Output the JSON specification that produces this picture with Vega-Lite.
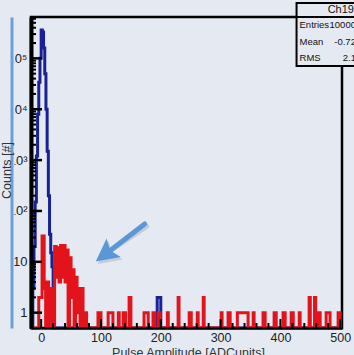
{
  "$schema": "https://vega.github.io/schema/vega-lite/v6.json",
  "width": 311,
  "height": 311,
  "autosize": {"type": "none"},
  "padding": {"left": 31, "top": 17, "right": 12, "bottom": 27},
  "background": "#e5eaf2",
  "datasets": {
    "blue": [
      {"x": -17, "n": 0}, {"x": -14, "n": 3}, {"x": -12, "n": 20}, {"x": -10, "n": 150},
      {"x": -8, "n": 1200}, {"x": -6, "n": 8000}, {"x": -4, "n": 34000}, {"x": -2, "n": 100000},
      {"x": 0, "n": 360000}, {"x": 2, "n": 330000}, {"x": 4, "n": 160000}, {"x": 6, "n": 50000},
      {"x": 8, "n": 10000}, {"x": 10, "n": 1500}, {"x": 12, "n": 200}, {"x": 14, "n": 35},
      {"x": 16, "n": 15}, {"x": 18, "n": 8}, {"x": 20, "n": 3}, {"x": 22, "n": 0},
      {"x": 194, "n": 2}, {"x": 200, "n": 0}, {"x": 503, "n": 0}
    ],
    "red": [
      {"x": -17, "n": 0}, {"x": -4, "n": 2}, {"x": 1.5, "n": 32}, {"x": 5, "n": 3},
      {"x": 7.5, "n": 0}, {"x": 10, "n": 4}, {"x": 12.5, "n": 1}, {"x": 15, "n": 0},
      {"x": 17.5, "n": 3}, {"x": 20, "n": 0}, {"x": 22.5, "n": 20}, {"x": 25, "n": 5},
      {"x": 27.5, "n": 19}, {"x": 30, "n": 4}, {"x": 32.5, "n": 21}, {"x": 35, "n": 5},
      {"x": 37.5, "n": 21}, {"x": 40, "n": 4}, {"x": 42.5, "n": 17}, {"x": 45, "n": 0},
      {"x": 47.5, "n": 12}, {"x": 50, "n": 2}, {"x": 52.5, "n": 7}, {"x": 55, "n": 0},
      {"x": 57.5, "n": 5}, {"x": 60, "n": 1}, {"x": 62.5, "n": 3}, {"x": 65, "n": 0},
      {"x": 67.5, "n": 3}, {"x": 70, "n": 1}, {"x": 72.5, "n": 0}, {"x": 74, "n": 1},
      {"x": 76, "n": 0},
      {"x": 95, "n": 1}, {"x": 100, "n": 0},
      {"x": 112, "n": 1}, {"x": 120, "n": 0},
      {"x": 129, "n": 1}, {"x": 130.5, "n": 0},
      {"x": 137, "n": 1}, {"x": 141, "n": 0},
      {"x": 147, "n": 2}, {"x": 150, "n": 0},
      {"x": 172, "n": 1}, {"x": 179, "n": 0},
      {"x": 187, "n": 1}, {"x": 190, "n": 0},
      {"x": 196, "n": 1}, {"x": 199, "n": 0},
      {"x": 211, "n": 1}, {"x": 212.5, "n": 0},
      {"x": 229, "n": 2}, {"x": 230.5, "n": 0},
      {"x": 247.5, "n": 1}, {"x": 251, "n": 0},
      {"x": 261, "n": 1}, {"x": 262.5, "n": 0},
      {"x": 271, "n": 2}, {"x": 272.5, "n": 0},
      {"x": 301, "n": 1}, {"x": 302.5, "n": 0},
      {"x": 312.5, "n": 1}, {"x": 316, "n": 0},
      {"x": 328, "n": 1}, {"x": 346, "n": 0},
      {"x": 354.5, "n": 1}, {"x": 356, "n": 0},
      {"x": 371, "n": 1}, {"x": 374.5, "n": 0},
      {"x": 389.5, "n": 1}, {"x": 393, "n": 0},
      {"x": 404.5, "n": 1}, {"x": 408, "n": 0},
      {"x": 418, "n": 1}, {"x": 421.5, "n": 0},
      {"x": 431.5, "n": 1}, {"x": 433, "n": 0},
      {"x": 448, "n": 2}, {"x": 450, "n": 0},
      {"x": 457, "n": 2}, {"x": 459, "n": 0},
      {"x": 463, "n": 1}, {"x": 466.5, "n": 0},
      {"x": 476.5, "n": 1}, {"x": 483, "n": 0},
      {"x": 496.5, "n": 1}, {"x": 500, "n": 0},
      {"x": 503, "n": 0}
    ],
    "arrow": [{"x": 173.1, "n": 55.4, "xe": 107.9, "ne": 14.3}],
    "statbox": [{"x": 427, "x2": 560, "n": 1220000, "n2": 70700}],
    "statline": [{"x": 427, "x2": 560, "n": 650000}],
    "stattitle": [{"x": 479, "n": 890000, "t": "Ch19"}],
    "statlabels": [
      {"x": 432, "n": 450000, "t": "Entries"},
      {"x": 432, "n": 210000, "t": "Mean"},
      {"x": 432, "n": 102000, "t": "RMS"}
    ],
    "statvalues": [
      {"x": 544, "n": 450000, "t": "1000000"},
      {"x": 544, "n": 210000, "t": "-0.7203"},
      {"x": 544, "n": 102000, "t": "2.158"}
    ],
    "ymajor": [{"v": 1}, {"v": 10}, {"v": 100}, {"v": 1000}, {"v": 10000}, {"v": 100000}],
    "yminor": [
      {"v": 2}, {"v": 3}, {"v": 4}, {"v": 5}, {"v": 6}, {"v": 7}, {"v": 8}, {"v": 9},
      {"v": 20}, {"v": 30}, {"v": 40}, {"v": 50}, {"v": 60}, {"v": 70}, {"v": 80}, {"v": 90},
      {"v": 200}, {"v": 300}, {"v": 400}, {"v": 500}, {"v": 600}, {"v": 700}, {"v": 800}, {"v": 900},
      {"v": 2000}, {"v": 3000}, {"v": 4000}, {"v": 5000}, {"v": 6000}, {"v": 7000}, {"v": 8000}, {"v": 9000},
      {"v": 20000}, {"v": 30000}, {"v": 40000}, {"v": 50000}, {"v": 60000}, {"v": 70000}, {"v": 80000}, {"v": 90000},
      {"v": 200000}, {"v": 300000}, {"v": 400000}, {"v": 500000}, {"v": 600000}
    ],
    "xmajor": [{"v": 0}, {"v": 100}, {"v": 200}, {"v": 300}, {"v": 400}, {"v": 500}],
    "xminor": [
      {"v": 20}, {"v": 40}, {"v": 60}, {"v": 80}, {"v": 120}, {"v": 140}, {"v": 160}, {"v": 180},
      {"v": 220}, {"v": 240}, {"v": 260}, {"v": 280}, {"v": 320}, {"v": 340}, {"v": 360}, {"v": 380},
      {"v": 420}, {"v": 440}, {"v": 460}, {"v": 480}
    ]
  },
  "layer": [
    {
      "data": {"name": "blue"},
      "mark": {"type": "line", "interpolate": "step-after", "color": "#1a2196", "strokeWidth": 3, "strokeJoin": "miter", "invalid": null},
      "encoding": {
        "x": {"field": "x", "type": "quantitative",
          "scale": {"type": "linear", "domain": [-17, 503], "nice": false, "zero": false},
          "axis": {"orient": "bottom", "values": [0, 100, 200, 300, 400, 500], "ticks": false, "domain": true, "domainColor": "#000000", "domainWidth": 2,
            "labelFontSize": 12.5, "labelColor": "#222222", "labelPadding": 3,
            "title": "Pulse Amplitude [ADCunits]", "titleFontSize": 12.5, "titleFontWeight": "normal", "titleColor": "#333333",
            "titleX": 157, "titleY": 28, "titleBaseline": "alphabetic", "titleAlign": "center", "zindex": 1}},
        "y": {"field": "n", "type": "quantitative",
          "scale": {"type": "log", "domain": [0.5, 650000], "nice": false, "clamp": true},
          "axis": {"orient": "left", "values": [1, 10, 100, 1000, 10000, 100000],
            "labelExpr": "datum.value == 1 ? '1\u2007' : datum.value == 10 ? '10' : datum.value == 100 ? '10²' : datum.value == 1000 ? '10³' : datum.value == 10000 ? '10⁴' : '10⁵'",
            "ticks": false, "domain": true, "domainColor": "#000000", "domainWidth": 4,
            "labelFontSize": 13, "labelColor": "#222222", "labelPadding": 4, "title": null, "zindex": 1}}
      }
    },
    {
      "data": {"name": "red"},
      "mark": {"type": "line", "interpolate": "step-after", "color": "#e3131b", "strokeWidth": 3, "strokeJoin": "miter", "invalid": null},
      "encoding": {
        "x": {"field": "x", "type": "quantitative", "scale": {"type": "linear", "domain": [-17, 503], "nice": false, "zero": false}, "axis": null},
        "y": {"field": "n", "type": "quantitative", "scale": {"type": "log", "domain": [0.5, 650000], "nice": false, "clamp": true}, "axis": null}
      }
    },
    {
      "data": {"name": "arrow"},
      "mark": {"type": "rule", "color": "#8a96a8", "opacity": 0.35, "strokeWidth": 5, "strokeCap": "round", "xOffset": 2, "yOffset": 2.5},
      "encoding": {
        "x": {"field": "x", "type": "quantitative", "scale": {"type": "linear", "domain": [-17, 503], "nice": false, "zero": false}, "axis": null},
        "y": {"field": "n", "type": "quantitative", "scale": {"type": "log", "domain": [0.5, 650000], "nice": false}, "axis": null},
        "x2": {"field": "xe"},
        "y2": {"field": "ne"}
      }
    },
    {
      "data": {"name": "arrow"},
      "mark": {"type": "point", "shape": "M0,-1L0.92,0.8L0,0.45L-0.92,0.8Z", "angle": 232.4, "size": 635, "filled": true, "color": "#8a96a8", "opacity": 0.35, "xOffset": 2, "yOffset": 2.5},
      "encoding": {
        "x": {"field": "xe", "type": "quantitative", "scale": {"type": "linear", "domain": [-17, 503], "nice": false, "zero": false}, "axis": null},
        "y": {"field": "ne", "type": "quantitative", "scale": {"type": "log", "domain": [0.5, 650000], "nice": false}, "axis": null}
      }
    },
    {
      "data": {"name": "arrow"},
      "mark": {"type": "rule", "color": "#5b96d6", "strokeWidth": 5, "strokeCap": "round"},
      "encoding": {
        "x": {"field": "x", "type": "quantitative", "scale": {"type": "linear", "domain": [-17, 503], "nice": false, "zero": false}, "axis": null},
        "y": {"field": "n", "type": "quantitative", "scale": {"type": "log", "domain": [0.5, 650000], "nice": false}, "axis": null},
        "x2": {"field": "xe"},
        "y2": {"field": "ne"}
      }
    },
    {
      "data": {"name": "arrow"},
      "mark": {"type": "point", "shape": "M0,-1L0.92,0.8L0,0.45L-0.92,0.8Z", "angle": 232.4, "size": 635, "filled": true, "color": "#5b96d6", "opacity": 1},
      "encoding": {
        "x": {"field": "xe", "type": "quantitative", "scale": {"type": "linear", "domain": [-17, 503], "nice": false, "zero": false}, "axis": null},
        "y": {"field": "ne", "type": "quantitative",
          "scale": {"type": "log", "domain": [0.5, 650000], "nice": false},
          "axis": {"orient": "left", "offset": 21, "domain": true, "domainColor": "#e5eaf2", "domainWidth": 8, "ticks": false, "labels": false, "title": null, "zindex": 2}}
      }
    },
    {
      "data": {"name": "ymajor"},
      "mark": {"type": "rule", "color": "#000000", "strokeWidth": 2.5},
      "encoding": {
        "x": {"datum": -17, "type": "quantitative", "scale": {"type": "linear", "domain": [-17, 503], "nice": false, "zero": false}, "axis": null},
        "x2": {"datum": 1.4},
        "y": {"field": "v", "type": "quantitative", "scale": {"type": "log", "domain": [0.5, 650000], "nice": false}, "axis": null}
      }
    },
    {
      "data": {"name": "yminor"},
      "mark": {"type": "rule", "color": "#000000", "strokeWidth": 2},
      "encoding": {
        "x": {"datum": -17, "type": "quantitative", "scale": {"type": "linear", "domain": [-17, 503], "nice": false, "zero": false}, "axis": null},
        "x2": {"datum": -8.6},
        "y": {"field": "v", "type": "quantitative", "scale": {"type": "log", "domain": [0.5, 650000], "nice": false}, "axis": null}
      }
    },
    {
      "data": {"name": "xmajor"},
      "mark": {"type": "rule", "color": "#000000", "strokeWidth": 2},
      "encoding": {
        "x": {"field": "v", "type": "quantitative", "scale": {"type": "linear", "domain": [-17, 503], "nice": false, "zero": false}, "axis": null},
        "y": {"datum": 0.5, "type": "quantitative", "scale": {"type": "log", "domain": [0.5, 650000], "nice": false}, "axis": null},
        "y2": {"datum": 0.75}
      }
    },
    {
      "data": {"name": "xminor"},
      "mark": {"type": "rule", "color": "#000000", "strokeWidth": 2},
      "encoding": {
        "x": {"field": "v", "type": "quantitative", "scale": {"type": "linear", "domain": [-17, 503], "nice": false, "zero": false}, "axis": null},
        "y": {"datum": 0.5, "type": "quantitative", "scale": {"type": "log", "domain": [0.5, 650000], "nice": false}, "axis": null},
        "y2": {"datum": 0.627}
      }
    },
    {
      "data": {"name": "statbox"},
      "mark": {"type": "rect", "fill": "#e5eaf2", "stroke": "#000000", "strokeWidth": 2},
      "encoding": {
        "x": {"field": "x", "type": "quantitative", "scale": {"type": "linear", "domain": [-17, 503], "nice": false, "zero": false}, "axis": null},
        "x2": {"field": "x2"},
        "y": {"field": "n", "type": "quantitative",
          "scale": {"type": "log", "domain": [0.5, 650000], "nice": false},
          "axis": {"orient": "left", "offset": 19.5, "domain": true, "domainColor": "#6c9fd9", "domainWidth": 3, "ticks": false, "labels": false,
            "title": "Counts [#]", "titleFontSize": 12.5, "titleFontWeight": "normal", "titleColor": "#333333",
            "titleAngle": -90, "titleX": -5.5, "titleY": 153, "titleAlign": "center", "titleBaseline": "middle", "zindex": 4}},
        "y2": {"field": "n2"}
      }
    },
    {
      "data": {"name": "statline"},
      "mark": {"type": "rule", "color": "#000000", "strokeWidth": 2},
      "encoding": {
        "x": {"field": "x", "type": "quantitative", "scale": {"type": "linear", "domain": [-17, 503], "nice": false, "zero": false}, "axis": null},
        "x2": {"field": "x2"},
        "y": {"field": "n", "type": "quantitative", "scale": {"type": "log", "domain": [0.5, 650000], "nice": false}, "axis": null}
      }
    },
    {
      "data": {"name": "stattitle"},
      "mark": {"type": "text", "align": "left", "baseline": "middle", "fontSize": 11, "font": "Liberation Sans", "color": "#111111"},
      "encoding": {
        "x": {"field": "x", "type": "quantitative", "scale": {"type": "linear", "domain": [-17, 503], "nice": false, "zero": false}, "axis": null},
        "y": {"field": "n", "type": "quantitative", "scale": {"type": "log", "domain": [0.5, 650000], "nice": false}, "axis": null},
        "text": {"field": "t"}
      }
    },
    {
      "data": {"name": "statlabels"},
      "mark": {"type": "text", "align": "left", "baseline": "middle", "fontSize": 9.5, "font": "Liberation Sans", "color": "#111111"},
      "encoding": {
        "x": {"field": "x", "type": "quantitative", "scale": {"type": "linear", "domain": [-17, 503], "nice": false, "zero": false}, "axis": null},
        "y": {"field": "n", "type": "quantitative", "scale": {"type": "log", "domain": [0.5, 650000], "nice": false}, "axis": null},
        "text": {"field": "t"}
      }
    },
    {
      "data": {"name": "statvalues"},
      "mark": {"type": "text", "align": "right", "baseline": "middle", "fontSize": 9.5, "font": "Liberation Sans", "color": "#111111"},
      "encoding": {
        "x": {"field": "x", "type": "quantitative", "scale": {"type": "linear", "domain": [-17, 503], "nice": false, "zero": false}, "axis": null},
        "y": {"field": "n", "type": "quantitative", "scale": {"type": "log", "domain": [0.5, 650000], "nice": false}, "axis": null},
        "text": {"field": "t"}
      }
    }
  ],
  "resolve": {"scale": {"y": "independent"}, "axis": {"x": "independent", "y": "independent"}},
  "config": {
    "view": {"stroke": "#000000", "strokeWidth": 2.5, "fill": "#e5eaf2"},
    "font": "Liberation Sans",
    "axis": {"grid": false, "labelFont": "Liberation Sans", "titleFont": "Liberation Sans", "labelOverlap": false, "labelFlush": false}
  }
}
